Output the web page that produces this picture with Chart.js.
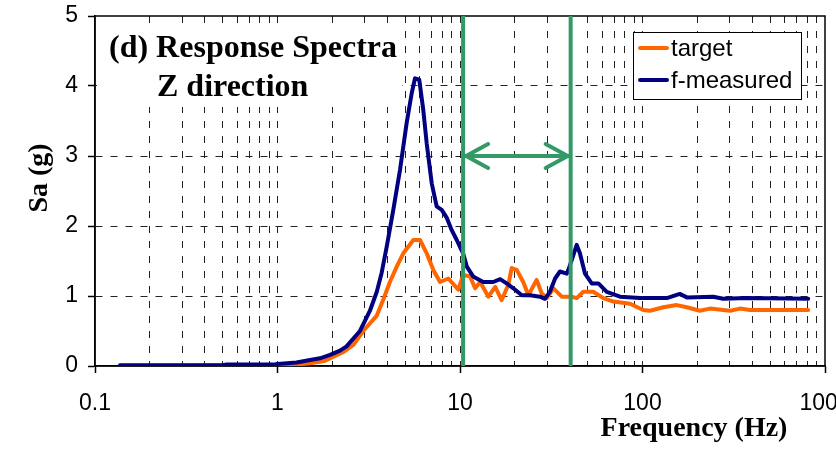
<!DOCTYPE html>
<html>
<head>
<meta charset="utf-8">
<script src="https://cdn.jsdelivr.net/npm/chart.js@4/dist/chart.umd.min.js"></script>
<style>
  html, body { margin: 0; padding: 0; background: #fff; }
  #wrap { width: 836px; height: 450px; }
</style>
</head>
<body>
<div id="wrap"><canvas id="c" width="836" height="450"></canvas></div>
<script>
// ---- data ----
const freqMeasured = [0.137,0.3,0.5,0.52,0.95,1.0,1.27,1.51,1.71,1.94,2.2,2.39,2.83,3.21,3.5,3.72,3.97,4.31,4.69,5.10,5.44,5.67,5.98,6.29,6.57,7.00,7.45,7.94,8.45,9.01,9.6,10.0,10.4,10.9,11.8,13.4,15.2,16.6,18.0,19.6,21.8,24.2,27.4,29.2,31.1,33.2,35.3,38.5,39.2,40.9,43.6,45.4,48.4,52.7,57.3,63.7,75.3,96.9,136,160,175,244,277,372,809];
const saMeasured   = [0.01,0.01,0.01,0.02,0.02,0.03,0.05,0.086,0.11,0.16,0.22,0.28,0.5,0.79,1.06,1.33,1.71,2.23,2.8,3.47,3.9,4.11,4.09,3.66,3.18,2.61,2.28,2.23,2.12,1.94,1.8,1.7,1.61,1.42,1.28,1.2,1.2,1.24,1.18,1.11,1.01,1.01,0.99,0.96,1.06,1.25,1.35,1.32,1.37,1.51,1.73,1.61,1.32,1.18,1.18,1.06,0.99,0.97,0.97,1.03,0.98,0.99,0.96,0.97,0.96];

const freqTarget = [0.137,1.0,1.17,1.51,1.8,2.01,2.3,2.6,2.95,3.5,3.8,4.13,4.5,4.89,5.55,6.04,6.57,7.14,7.77,8.63,9.79,10.4,11.35,12.1,12.9,14.3,15.6,16.9,18.4,19.2,20.5,22.2,23.7,26.3,28.0,29.9,32.5,36.1,40.9,43.6,47.4,53.7,61.0,69.2,85.4,101,110,130,154,175,206,234,302,342,388,809];
const saTarget   = [0,0.01,0.01,0.04,0.07,0.13,0.2,0.3,0.5,0.72,0.95,1.2,1.42,1.61,1.8,1.8,1.61,1.37,1.2,1.25,1.09,1.3,1.28,1.11,1.2,0.99,1.13,0.94,1.16,1.4,1.37,1.2,1.01,1.23,1.04,0.97,1.11,0.99,0.99,0.97,1.06,1.06,0.97,0.92,0.89,0.8,0.79,0.84,0.87,0.84,0.79,0.82,0.79,0.82,0.8,0.8];

const bandEdges = [10.4, 40.4];     // green vertical lines (Hz)
const arrowLevel = 3;               // Sa level of the double arrow
const seriesNames = ['target', 'f-measured'];
const xTickLabels = ['0.1', '1', '10', '100', '1000'];
const yTicks = [0, 1, 2, 3, 4, 5];
const titleLines = ['(d) Response Spectra', 'Z direction'];
const xTitle = 'Frequency (Hz)';
const yTitle = 'Sa (g)';

const ORANGE = '#ff6600', NAVY = '#000080', GREEN = '#339966';

const toPts = (xs, ys) => xs.map((x, i) => ({ x: x, y: ys[i] }));

const decadeVals = xTickLabels.map(Number);
const isDecade = v => decadeVals.some(d => Math.abs(v - d) / d < 1e-6);

const overlay = {
  id: 'overlay',
  beforeDatasetsDraw(chart) {
    const ctx = chart.ctx, a = chart.chartArea;
    ctx.save();
    ctx.fillStyle = '#fff';
    ctx.fillRect(97, 27, 305, 80);
    ctx.strokeStyle = '#000';
    ctx.lineWidth = 1.5;
    ctx.strokeRect(a.left, a.top, a.right - a.left, a.bottom - a.top);
    ctx.fillStyle = '#000';
    ctx.font = 'bold 32px "Liberation Serif", "Times New Roman", serif';
    ctx.textBaseline = 'alphabetic';
    ctx.textAlign = 'left';
    ctx.fillText(titleLines[0], 109, 57);
    ctx.fillText(titleLines[1], 157, 96);
    ctx.restore();
  },
  afterDatasetsDraw(chart) {
    const ctx = chart.ctx, a = chart.chartArea;
    const xs = chart.scales.x, ys = chart.scales.y;
    ctx.save();
    ctx.strokeStyle = GREEN;
    ctx.lineWidth = 4;
    const x1 = xs.getPixelForValue(bandEdges[0]);
    const x2 = xs.getPixelForValue(bandEdges[1]);
    ctx.beginPath();
    ctx.moveTo(x1, a.top); ctx.lineTo(x1, a.bottom);
    ctx.moveTo(x2, a.top); ctx.lineTo(x2, a.bottom);
    ctx.stroke();
    const yA = ys.getPixelForValue(arrowLevel);
    ctx.lineCap = 'round';
    ctx.beginPath();
    ctx.moveTo(x1 + 2, yA); ctx.lineTo(x2 - 2, yA);
    ctx.moveTo(x1 + 25, yA - 12); ctx.lineTo(x1 + 3, yA); ctx.lineTo(x1 + 25, yA + 12);
    ctx.moveTo(x2 - 25, yA - 12); ctx.lineTo(x2 - 3, yA); ctx.lineTo(x2 - 25, yA + 12);
    ctx.stroke();
    ctx.restore();
  },
  afterDraw(chart) {
    const ctx = chart.ctx;
    ctx.save();
    ctx.fillStyle = '#fff';
    ctx.fillRect(633, 32, 168, 67);
    ctx.strokeStyle = '#000';
    ctx.lineWidth = 1;
    ctx.strokeRect(633.5, 32.5, 168, 67);
    const cols = [ORANGE, NAVY];
    const ly = [48, 80];
    ctx.lineWidth = 4;
    ctx.lineCap = 'round';
    for (let i = 0; i < 2; i++) {
      ctx.strokeStyle = cols[i];
      ctx.beginPath(); ctx.moveTo(640, ly[i]); ctx.lineTo(667, ly[i]); ctx.stroke();
    }
    ctx.fillStyle = '#000';
    ctx.font = '24px "Liberation Sans", Arial, sans-serif';
    ctx.textAlign = 'left';
    ctx.textBaseline = 'alphabetic';
    ctx.fillText(seriesNames[0], 671, 56);
    ctx.fillText(seriesNames[1], 671, 88);
    ctx.font = 'bold 28px "Liberation Serif", "Times New Roman", serif';
    ctx.textAlign = 'center';
    ctx.textBaseline = 'middle';
    ctx.fillText(xTitle, 694, 429);
    ctx.translate(40, 178);
    ctx.rotate(-Math.PI / 2);
    ctx.fillText(yTitle, 0, 0);
    ctx.restore();
  }
};

new Chart(document.getElementById('c'), {
  type: 'scatter',
  data: {
    datasets: [
      { label: seriesNames[1], data: toPts(freqMeasured, saMeasured), showLine: true,
        borderColor: NAVY, backgroundColor: NAVY, borderWidth: 4, pointRadius: 0, tension: 0,
        borderJoinStyle: 'round', borderCapStyle: 'round' },
      { label: seriesNames[0], data: toPts(freqTarget, saTarget), showLine: true,
        borderColor: ORANGE, backgroundColor: ORANGE, borderWidth: 4, pointRadius: 0, tension: 0,
        borderJoinStyle: 'round', borderCapStyle: 'round' }
    ]
  },
  options: {
    responsive: false,
    animation: false,
    devicePixelRatio: 1,
    layout: { padding: { top: 16, right: 11, left: 0, bottom: 0 } },
    plugins: { legend: { display: false }, tooltip: { enabled: false }, title: { display: false } },
    scales: {
      x: {
        type: 'logarithmic',
        min: 0.1, max: 1000,
        afterBuildTicks(scale) {
          const t = [];
          for (let e = -1; e <= 2; e++) {
            for (let m = 1; m <= 9; m++) t.push({ value: +(m * Math.pow(10, e)).toPrecision(6) });
          }
          t.push({ value: 1000 });
          scale.ticks = t;
        },
        afterFit(scale) {
          scale.height = 84;
          scale.paddingLeft = 0; scale.paddingRight = 0;
        },
        ticks: {
          autoSkip: false, maxRotation: 0, minRotation: 0,
          padding: 17,
          color: '#000',
          font: { family: '"Liberation Sans", Arial, sans-serif', size: 23 },
          callback(v) {
            const idx = decadeVals.findIndex(d => Math.abs(v - d) / d < 1e-6);
            return idx >= 0 ? xTickLabels[idx] : '';
          }
        },
        grid: {
          color: ctx => (ctx.tick && (ctx.tick.value === 0.1 || ctx.tick.value === 1000)) ? 'rgba(0,0,0,0)' : '#222',
          lineWidth: 1,
          tickLength: 7,
          tickColor: ctx => (ctx.tick && isDecade(ctx.tick.value)) ? '#000' : 'rgba(0,0,0,0)',
          tickWidth: 1.5
        },
        border: { display: true, color: '#000', width: 1.5, dash: [7, 8] }
      },
      y: {
        type: 'linear',
        min: 0, max: 5,
        afterBuildTicks(scale) { scale.ticks = yTicks.map(v => ({ value: v })); },
        afterFit(scale) {
          scale.width = 95;
          scale.paddingTop = 0; scale.paddingBottom = 0;
        },
        ticks: {
          padding: 10,
          color: '#000',
          font: { family: '"Liberation Sans", Arial, sans-serif', size: 23 }
        },
        grid: {
          color: ctx => (ctx.tick && (ctx.tick.value === 0 || ctx.tick.value === 5)) ? 'rgba(0,0,0,0)' : '#222',
          lineWidth: 1,
          tickLength: 7,
          tickColor: '#000',
          tickWidth: 1.5
        },
        border: { display: true, color: '#000', width: 1.5, dash: [7, 8] }
      }
    }
  },
  plugins: [overlay]
});
</script>
</body>
</html>
